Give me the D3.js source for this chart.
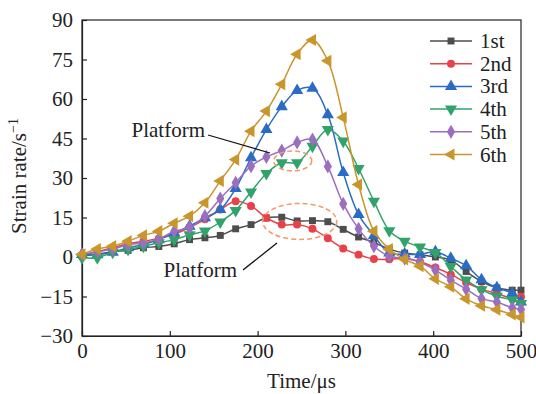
<!DOCTYPE html>
<html>
<head>
<meta charset="utf-8">
<script src="https://cdn.jsdelivr.net/npm/d3@7"></script>
<style>
  body { margin: 0; background: #fff; }
  svg text { font-family: "Liberation Serif", "DejaVu Serif", serif; fill: #222; }
</style>
</head>
<body>
<svg id="chart" width="536" height="394"></svg>
<script>
// time axis (µs)
const times = [0, 17.5, 35, 52.5, 70, 87.5, 105, 122.5, 140, 157.5, 175, 192.5, 210, 227.5, 245,
  262.5, 280, 297.5, 315, 332.5, 350, 367.5, 385, 402.5, 420, 437.5, 455, 472.5, 490, 500];

// strain rate (1/s) for each loading
const first  = [0.5, 1, 2, 2.5, 3.5, 4, 5, 6.6, 7.3, 8.2, 10.7, 12.3, 14.8, 15.1, 13.7, 13.8, 13.4, 10.5, 7.6, 5.5, 3, 1.5, 0.8, 0, -1.2, -5.5, -9.3, -11.7, -12.6, -12.6];
const second = [0.5, 2, 3.5, 5, 6, 7, 8.6, 11.2, 14.3, 18, 21.2, 19.4, 14.9, 12.3, 12.3, 10.7, 7.1, 3.2, 0.9, -0.8, -0.9, -0.5, -1.8, -4, -6.6, -9.7, -12.2, -13.9, -15.5, -15.1];
const third  = [1, 0.9, 1.8, 3.5, 4.8, 6.6, 9.2, 11.7, 14.9, 18, 26, 37.7, 48.4, 57.1, 63.2, 64.1, 54, 32.1, 16.1, 8.2, 1.5, 1.1, 1, 2, -0.5, -3.3, -8.6, -11.7, -13.8, -17.1];
const fourth = [-0.3, -0.3, 1.8, 2.9, 4.1, 5.4, 6.6, 8.4, 9.9, 13.3, 17.7, 24.7, 31.7, 35.8, 35.8, 42.1, 48.4, 44, 33.6, 21.2, 10, 6, 3.8, 1.7, -3.6, -8.7, -12.4, -14.9, -16.3, -17.7];
const fifth  = [1, 2, 3, 4.6, 5.4, 6.9, 9.8, 11.2, 15.5, 22.2, 28.2, 34.5, 38, 40.4, 43.5, 44.6, 34.4, 20.2, 10.7, 4.1, 0.3, -0.6, -2, -5, -8.8, -12.2, -15.8, -17.1, -19.3, -19.9];
const sixth  = [1, 3, 4.1, 6, 8.2, 9.8, 12.8, 15.5, 20.6, 28.9, 37, 47.8, 55.4, 65.6, 77, 82.4, 74.5, 53, 27.5, 9.8, 3, -0.9, -3.5, -8.3, -11.3, -15.9, -18.5, -20, -21.8, -22.9];

const seriesNames = ["1st", "2nd", "3rd", "4th", "5th", "6th"];
const xTicks = [0, 100, 200, 300, 400, 500];
const yTicks = [-30, -15, 0, 15, 30, 45, 60, 75, 90];

const colors = ["#4d4d4d", "#e8414a", "#2a6cc4", "#31a36a", "#9a6fc0", "#c9962c"];
const symbols = [
  { type: d3.symbolSquare, size: 48, rot: 0 },
  { type: d3.symbolCircle, size: 50, rot: 0 },
  { type: d3.symbolTriangle, size: 64, rot: 0 },
  { type: d3.symbolTriangle, size: 64, rot: 180 },
  { type: d3.symbolDiamond, size: 58, rot: 0 },
  { type: d3.symbolTriangle, size: 64, rot: -90 }
];

const allSeries = [first, second, third, fourth, fifth, sixth];

const margin = { top: 20, right: 15, bottom: 58, left: 82 },
  width = 536, height = 394,
  innerWidth = width - margin.left - margin.right,
  innerHeight = height - margin.top - margin.bottom;

const fs = 21;

const svg = d3.select("#chart");
const g = svg.append("g").attr("transform", `translate(${margin.left},${margin.top})`);

const x = d3.scaleLinear().domain([0, 500]).range([0, innerWidth]);
const y = d3.scaleLinear().domain([-30, 90]).range([innerHeight, 0]);

// frame
g.append("rect").attr("width", innerWidth).attr("height", innerHeight)
  .attr("fill", "none").attr("stroke", "#222").attr("stroke-width", 1.2);

// axes with inward ticks
const xAxis = g.append("g").attr("transform", `translate(0,${innerHeight})`)
  .call(d3.axisBottom(x).tickValues(xTicks).tickSizeInner(-5).tickSizeOuter(0).tickPadding(7));
const yAxis = g.append("g")
  .call(d3.axisLeft(y).tickValues(yTicks).tickSizeInner(-5).tickSizeOuter(0).tickPadding(9)
    .tickFormat(d => d < 0 ? "\u2212" + Math.abs(d) : d));
[xAxis, yAxis].forEach(a => {
  a.attr("font-family", null).attr("font-size", null);
  a.select(".domain").attr("stroke", "#222").attr("stroke-width", 1.2);
  a.selectAll(".tick line").attr("stroke", "#222").attr("stroke-width", 1.2);
  a.selectAll("text").attr("font-size", fs).attr("fill", "#222");
});

// axis titles
g.append("text").attr("x", innerWidth / 2).attr("y", innerHeight + 52)
  .attr("text-anchor", "middle").attr("font-size", fs).text("Time/\u03bcs");
const yt = svg.append("text").attr("transform", "translate(26,176) rotate(-90)")
  .attr("text-anchor", "middle").attr("font-size", fs);
yt.append("tspan").text("Strain rate/s");
yt.append("tspan").attr("dy", -8).attr("font-size", 14).text("\u22121");

// lines + markers
const line = d3.line()
  .x((d, i) => x(times[i]))
  .y(d => y(d))
  .curve(d3.curveCatmullRom.alpha(0.5));

allSeries.forEach((vals, k) => {
  g.append("path").datum(vals)
    .attr("fill", "none").attr("stroke", colors[k]).attr("stroke-width", 1.5)
    .attr("d", line);
  g.selectAll(".m" + k).data(vals).join("path")
    .attr("class", "m" + k)
    .attr("d", d3.symbol().type(symbols[k].type).size(symbols[k].size))
    .attr("transform", (d, i) => `translate(${x(times[i])},${y(d)}) rotate(${symbols[k].rot})`)
    .attr("fill", colors[k]);
});

// annotations: platform ellipses
g.append("ellipse").attr("cx", x(240)).attr("cy", y(36.5)).attr("rx", 19).attr("ry", 10)
  .attr("fill", "none").attr("stroke", "#f39a6b").attr("stroke-width", 1.5).attr("stroke-dasharray", "5,3");
g.append("ellipse").attr("cx", x(248)).attr("cy", y(13.5)).attr("rx", 37).attr("ry", 18)
  .attr("fill", "none").attr("stroke", "#f39a6b").attr("stroke-width", 1.5).attr("stroke-dasharray", "5,3");

g.append("line").attr("x1", 208 - margin.left).attr("y1", 135 - margin.top)
  .attr("x2", 270 - margin.left).attr("y2", 153 - margin.top).attr("stroke", "#111").attr("stroke-width", 1.3);
g.append("text").attr("x", 205 - margin.left).attr("y", 137 - margin.top)
  .attr("text-anchor", "end").attr("font-size", fs).text("Platform");

g.append("line").attr("x1", 243 - margin.left).attr("y1", 270 - margin.top)
  .attr("x2", 277 - margin.left).attr("y2", 243 - margin.top).attr("stroke", "#111").attr("stroke-width", 1.3);
g.append("text").attr("x", 237 - margin.left).attr("y", 277 - margin.top)
  .attr("text-anchor", "end").attr("font-size", fs).text("Platform");

// legend
const legend = svg.append("g").attr("transform", "translate(430,41)");
seriesNames.forEach((name, k) => {
  const row = legend.append("g").attr("transform", `translate(0,${k * 22.7})`);
  row.append("line").attr("x1", 0).attr("x2", 42).attr("stroke", colors[k]).attr("stroke-width", 1.5);
  row.append("path").attr("d", d3.symbol().type(symbols[k].type).size(symbols[k].size))
    .attr("transform", `translate(21,0) rotate(${symbols[k].rot})`).attr("fill", colors[k]);
  row.append("text").attr("x", 50).attr("y", 7).attr("font-size", fs).text(name);
});
</script>
</body>
</html>
